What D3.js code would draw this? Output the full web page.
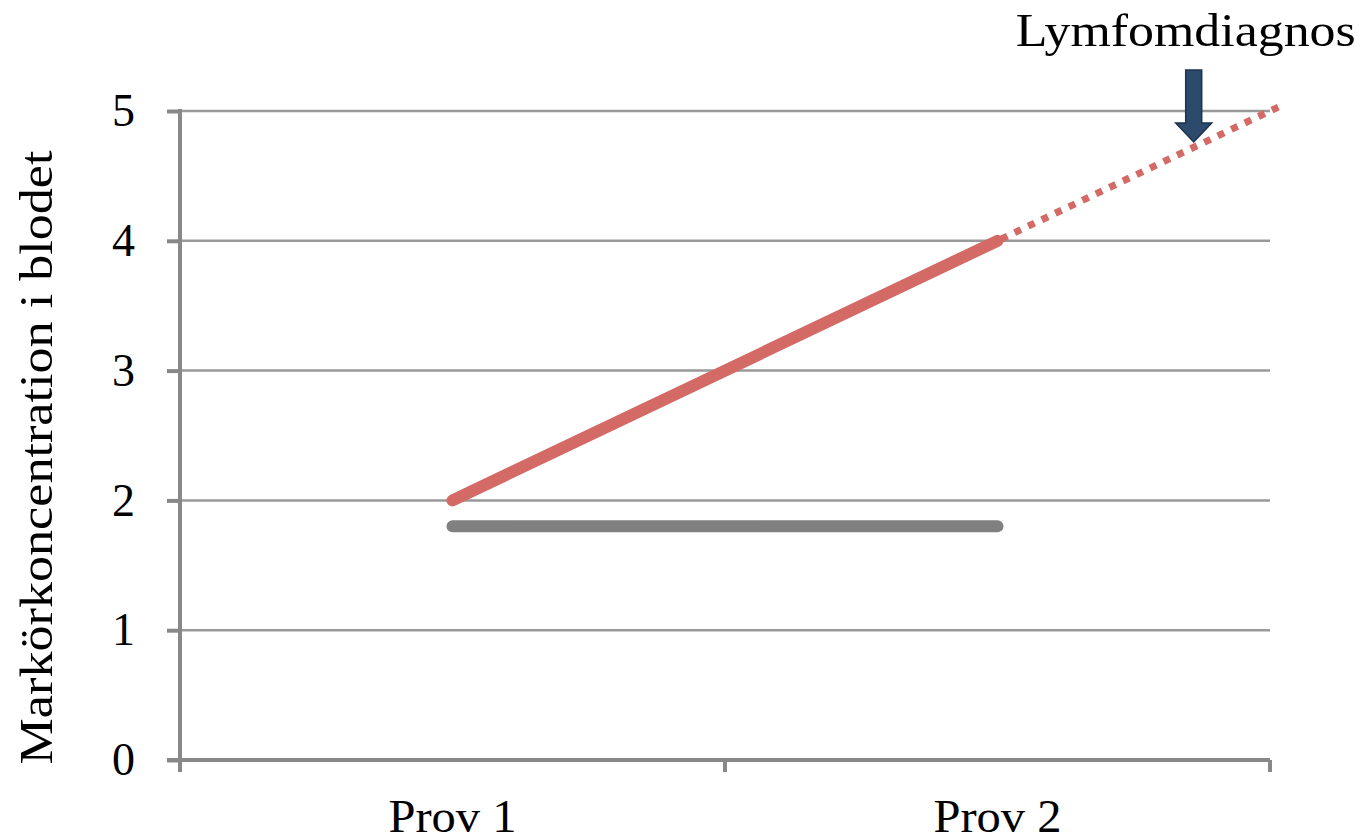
<!DOCTYPE html>
<html>
<head>
<meta charset="utf-8">
<script src="https://cdn.jsdelivr.net/npm/d3@7"></script>
<style>
  html, body { margin: 0; padding: 0; background: #fff; }
  svg { display: block; font-family: "Liberation Serif", "DejaVu Serif", serif; }
</style>
</head>
<body>
<svg id="chart" width="1368" height="839"></svg>
<script>
// data
const categories = ['Prov 1', 'Prov 2']
const yTicks = [0, 1, 2, 3, 4, 5]
const markerRising = [2, 4]      // red
const markerFlat = [1.8, 1.8]    // grey
// dotted projection beyond Prov 2 (x as category index)
const projection = [[1, 4], [1.525, 5.05]]
const diagnosisLabel = 'Lymfomdiagnos'
const diagnosisAt = 1.36
const yTitle = 'Markörkoncentration i blodet'

const mLeft = 180, mRight = 1270, mTop = 111, mBottom = 760

const svg = d3.select('#chart')

const x = d3.scaleBand().domain(categories).range([mLeft, mRight])
const xi = d3.scaleLinear().domain([-0.5, categories.length - 0.5]).range([mLeft, mRight])
const y = d3.scaleLinear().domain([0, 5]).range([mBottom, mTop])

// gridlines
svg.append('g').selectAll('line').data(yTicks.filter(d => d > 0)).enter().append('line')
  .attr('x1', mLeft).attr('x2', mRight)
  .attr('y1', d => y(d)).attr('y2', d => y(d))
  .attr('stroke', '#999').attr('stroke-width', 2.5)

// y axis
const yAxis = svg.append('g').attr('transform', `translate(${mLeft},0)`)
  .call(d3.axisLeft(y).tickValues(yTicks).tickFormat(d3.format('d')).tickSize(13).tickPadding(32))
yAxis.select('.domain').remove()
yAxis.append('line').attr('x1', 0).attr('x2', 0).attr('y1', mTop - 2).attr('y2', mBottom + 12)
  .attr('stroke', '#888').attr('stroke-width', 4)
yAxis.selectAll('.tick line').attr('stroke', '#888').attr('stroke-width', 4)
yAxis.selectAll('.tick text').attr('fill', '#000').style('font-size', '46px')
  .style('font-family', '"Liberation Serif", serif').attr('dy', '0.32em')

// x axis
const xAxis = svg.append('g').attr('transform', `translate(0,${mBottom})`)
  .call(d3.axisBottom(x).tickSize(0).tickPadding(0))
xAxis.select('.domain').remove()
xAxis.append('line').attr('x1', mLeft - 13).attr('x2', mRight).attr('y1', 0).attr('y2', 0)
  .attr('stroke', '#888').attr('stroke-width', 4)
xAxis.selectAll('.bound').data(d3.range(categories.length + 1)).enter().append('line')
  .attr('x1', d => xi(d - 0.5)).attr('x2', d => xi(d - 0.5))
  .attr('y1', 0).attr('y2', 12)
  .attr('stroke', '#888').attr('stroke-width', 4)
xAxis.selectAll('.tick text').attr('fill', '#000').style('font-size', '46px')
  .style('font-family', '"Liberation Serif", serif').attr('y', 72).attr('dy', 0)
  .attr('textLength', 128).attr('lengthAdjust', 'spacingAndGlyphs')

// series
const line = d3.line().x((d, i) => x(categories[i]) + x.bandwidth() / 2).y(d => y(d))

svg.append('path').datum(markerFlat).attr('d', line)
  .attr('fill', 'none').attr('stroke', '#808080').attr('stroke-width', 12)
  .attr('stroke-linecap', 'round')

svg.append('path').datum(projection)
  .attr('d', d3.line().x(d => xi(d[0])).y(d => y(d[1])))
  .attr('fill', 'none').attr('stroke', '#d46a66').attr('stroke-width', 7)
  .attr('stroke-dasharray', '7,8').attr('stroke-dashoffset', -4)

svg.append('path').datum(markerRising).attr('d', line)
  .attr('fill', 'none').attr('stroke', '#d46a66').attr('stroke-width', 12)
  .attr('stroke-linecap', 'round')

// arrow + label
const ax = xi(diagnosisAt)
const tipY = 142, headY = 123, shaftTop = 70
svg.append('path')
  .attr('d', `M${ax - 8},${shaftTop} L${ax + 8},${shaftTop} L${ax + 8},${headY} L${ax + 18},${headY} L${ax},${tipY} L${ax - 18},${headY} L${ax - 8},${headY} Z`)
  .attr('fill', '#2c4a6b').attr('stroke', '#1c3350').attr('stroke-width', 1.5)

svg.append('text').attr('x', ax - 8).attr('y', 46)
  .attr('text-anchor', 'middle').style('font-size', '46px')
  .attr('textLength', 340).attr('lengthAdjust', 'spacingAndGlyphs')
  .text(diagnosisLabel)

// y title
svg.append('text')
  .attr('transform', `translate(52,${(mTop + mBottom) / 2 + 22}) rotate(-90)`)
  .attr('text-anchor', 'middle').style('font-size', '46px')
  .attr('textLength', 614).attr('lengthAdjust', 'spacingAndGlyphs')
  .text(yTitle)
</script>
</body>
</html>
